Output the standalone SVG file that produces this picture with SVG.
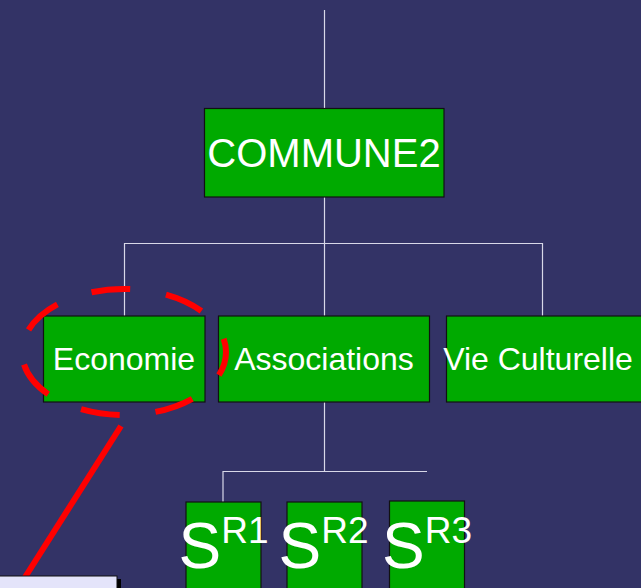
<svg xmlns="http://www.w3.org/2000/svg" width="641" height="588" viewBox="0 0 641 588">
<style>
.box{fill:#00aa00;stroke:#111111;stroke-width:1.2}
.lbl{fill:#ffffff;font-family:"Liberation Sans",Arial,sans-serif;font-size:32px;text-anchor:middle}
.con{stroke:#d8d8e8;stroke-width:1.2;fill:none}
.big{fill:#ffffff;font-family:"Liberation Sans",Arial,sans-serif;font-size:64px}
.sup{font-size:37px}
</style>
<rect x="0" y="0" width="641" height="588" fill="#333366"/>
<g id="connectors">
<path class="con" d="M324.5 10V108.5"/>
<path class="con" d="M324.5 197V316M124.5 316V243.5H542.5V316"/>
<path class="con" d="M324.5 402V471.5M427 471.5H223V502"/>
</g>
<g id="commune2">
<rect class="box" x="204.5" y="108.5" width="239.5" height="88.5"/>
<text class="lbl" x="324" y="166.5" style="font-size:40px">COMMUNE2</text>
</g>
<g id="economie">
<rect class="box" x="43.5" y="316" width="161.5" height="86"/>
<text class="lbl" x="124" y="370">Economie</text>
</g>
<g id="associations">
<rect class="box" x="218.5" y="316" width="211" height="86"/>
<text class="lbl" x="324" y="370">Associations</text>
</g>
<g id="vie-culturelle">
<rect class="box" x="446.5" y="316" width="200" height="86"/>
<text class="lbl" x="538" y="370">Vie Culturelle</text>
</g>
<g id="sr1">
<rect class="box" x="186" y="502" width="75" height="95"/>
<text class="big" x="178.5" y="568">S<tspan class="sup" dy="-25">R1</tspan></text>
</g>
<g id="sr2">
<rect class="box" x="287" y="502" width="75" height="95"/>
<text class="big" x="278.5" y="568">S<tspan class="sup" dy="-25">R2</tspan></text>
</g>
<g id="sr3">
<rect class="box" x="389.5" y="501" width="75" height="96"/>
<text class="big" x="382" y="568">S<tspan class="sup" dy="-25">R3</tspan></text>
</g>
<g id="highlight">
<ellipse cx="124" cy="352" rx="102" ry="63" fill="none" stroke="#ff0000" stroke-width="6" stroke-dasharray="39 36.1" stroke-dashoffset="14.6"/>
<line x1="121" y1="426" x2="22" y2="582" stroke="#ff0000" stroke-width="6"/>
</g>
<g id="note">
<rect x="3" y="579" width="118" height="20" fill="#000000"/>
<rect x="-1" y="576" width="118" height="20" fill="#e4e4fa" stroke="#111111" stroke-width="1"/>
</g>
</svg>
